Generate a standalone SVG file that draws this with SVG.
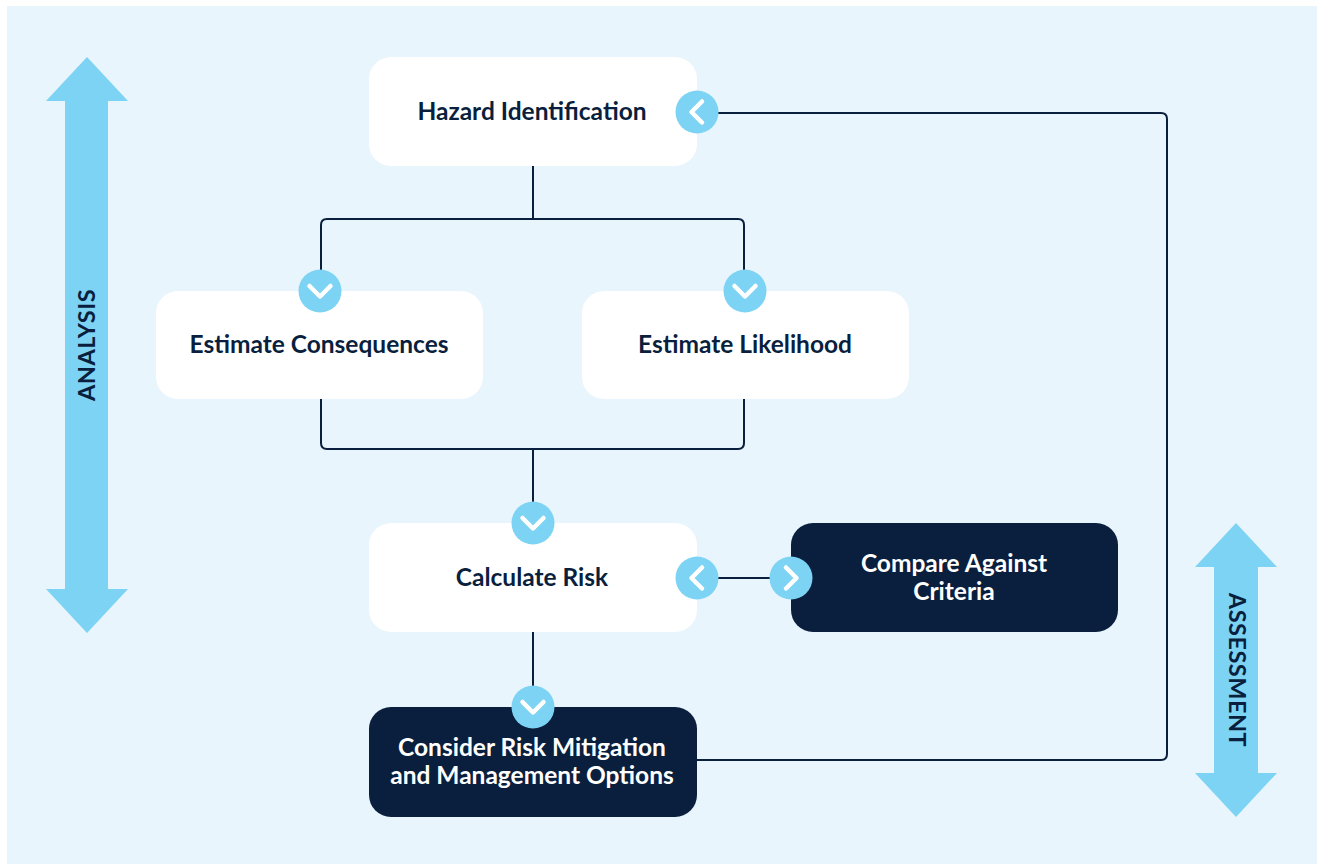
<svg xmlns="http://www.w3.org/2000/svg" width="1317" height="864" viewBox="0 0 1317 864">
  <style>
    .bg { fill: #ffffff; }
    .panel { fill: #e8f5fc; }
    .bigarrow { fill: #7dd3f4; }
    .light { fill: #ffffff; }
    .dark { fill: #0a1f3e; }
    .t { font-family: "Lato", "Liberation Sans", sans-serif; font-weight: 700; font-size: 24.5px; text-anchor: middle; }
    .tl { fill: #0a1f3e; }
    .td { fill: #ffffff; }
    .side { font-family: "Lato", "Liberation Sans", sans-serif; font-weight: 700; font-size: 23.5px; fill: #0a1f3e; text-anchor: middle; letter-spacing: 0.5px; }
    .conn { fill: none; stroke: #0a1f3e; stroke-width: 2; stroke-linejoin: round; }
    .chevc { fill: #7dd3f3; stroke: none; }
    .chevp { fill: none; stroke: #ffffff; stroke-width: 4.5; stroke-linecap: round; stroke-linejoin: round; }
  </style>
  <defs>
    <g id="chevDown">
      <circle class="chevc" cx="0" cy="0" r="21.5"/>
      <polyline class="chevp" points="-10.5,-5 0,5.5 10.5,-5"/>
    </g>
  </defs>

  <rect class="bg" x="0" y="0" width="1317" height="864"/>
  <rect class="panel" x="7" y="6" width="1310" height="858"/>

  <g id="analysis-arrow">
    <polygon class="bigarrow" points="87,57 128,101 108,101 108,589 128,589 87,633 46,589 65,589 65,101 46,101"/>
    <text class="side" transform="translate(94.5,345) rotate(-90)">ANALYSIS</text>
  </g>

  <g id="assessment-arrow">
    <polygon class="bigarrow" points="1236,523 1277,567 1258,567 1258,773 1277,773 1236,817 1195,773 1214,773 1214,567 1195,567"/>
    <text class="side" transform="translate(1228.5,670) rotate(90)">ASSESSMENT</text>
  </g>

  <g id="connectors">
    <path class="conn" d="M533,166 V219"/>
    <path class="conn" d="M321,291 V225 Q321,219 327,219 H738 Q744,219 744,225 V291"/>
    <path class="conn" d="M321,399 V443 Q321,449 327,449 H738 Q744,449 744,443 V399"/>
    <path class="conn" d="M533,449 V523"/>
    <path class="conn" d="M533,632 V708"/>
    <path class="conn" d="M697,578 H791"/>
    <path class="conn" d="M697,760 H1161 Q1167,760 1167,754 V119 Q1167,113 1161,113 H697"/>
  </g>

  <g id="hazard">
    <rect class="light" x="369" y="57" width="328" height="109" rx="22"/>
    <text class="t tl" x="532" y="120">Hazard Identification</text>
  </g>

  <g id="consequences">
    <rect class="light" x="156" y="291" width="327" height="108" rx="22"/>
    <text class="t tl" x="319" y="353">Estimate Consequences</text>
  </g>

  <g id="likelihood">
    <rect class="light" x="582" y="291" width="327" height="108" rx="22"/>
    <text class="t tl" x="745" y="353">Estimate Likelihood</text>
  </g>

  <g id="calculate">
    <rect class="light" x="369" y="523" width="328" height="109" rx="22"/>
    <text class="t tl" x="532" y="586">Calculate Risk</text>
  </g>

  <g id="compare">
    <rect class="dark" x="791" y="523" width="327" height="109" rx="22"/>
    <text class="t td" x="954" y="572">Compare Against</text>
    <text class="t td" x="954" y="600">Criteria</text>
  </g>

  <g id="mitigation">
    <rect class="dark" x="369" y="707" width="328" height="110" rx="22"/>
    <text class="t td" x="532" y="756">Consider Risk Mitigation</text>
    <text class="t td" x="532" y="784">and Management Options</text>
  </g>

  <g id="chevrons">
    <use href="#chevDown" transform="translate(697,112) rotate(90)"/>
    <use href="#chevDown" transform="translate(320,291)"/>
    <use href="#chevDown" transform="translate(745,291)"/>
    <use href="#chevDown" transform="translate(533,523)"/>
    <use href="#chevDown" transform="translate(697,578) rotate(90)"/>
    <use href="#chevDown" transform="translate(791,578) rotate(-90)"/>
    <use href="#chevDown" transform="translate(533,707)"/>
  </g>
</svg>
